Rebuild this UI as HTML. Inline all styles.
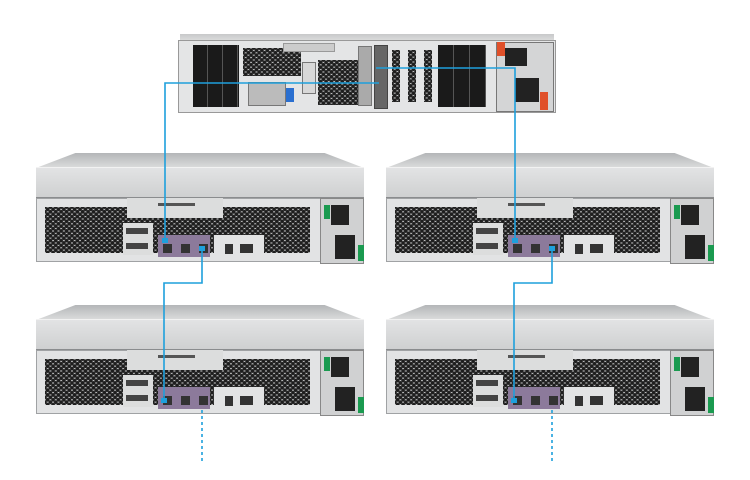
<!DOCTYPE html>
<html><head><meta charset="utf-8"><style>
body{margin:0;width:750px;height:480px;background:#fff;position:relative;overflow:hidden;font-family:"Liberation Sans",sans-serif}
.a{position:absolute}
.u{position:absolute;width:330px;height:115px}
.lid{position:absolute;left:0;top:0;width:328px;height:15px;background:linear-gradient(#b4b6b8,#dcdddd);clip-path:polygon(12% 0,88% 0,100% 100%,0 100%)}
.lf{position:absolute;left:0;top:14px;width:328px;height:31px;background:linear-gradient(#e2e3e4,#cfd0d1);border-top:1px solid #f2f2f2;border-bottom:1px solid #8a8c8e;box-sizing:border-box}
.fp{position:absolute;left:0;top:45px;width:286px;height:64px;background:#e2e3e4;border:1px solid #a0a2a4;box-sizing:border-box}
.mesh{position:absolute;background-color:#d4d5d6;background-image:radial-gradient(circle,#1e1e1e 1.7px,transparent 2.1px),radial-gradient(circle,#1e1e1e 1.7px,transparent 2.1px);background-size:5.4px 4.8px;background-position:0 0,2.7px 2.4px}
.psu{position:absolute;left:284px;top:45px;width:44px;height:66px;background:#d0d1d2;border:1px solid #888;box-sizing:border-box}
</style></head><body>

<!-- top server -->
<div class="a" style="left:180px;top:34px;width:374px;height:8px;background:linear-gradient(#c8c9ca,#e0e0e0)"></div>
<div class="a" style="left:178px;top:40px;width:378px;height:73px;background:#e4e5e6;border:1px solid #999;box-sizing:border-box"></div>
<div class="a" style="left:193px;top:45px;width:46px;height:62px;background:repeating-linear-gradient(90deg,#1a1a1a 0 14px,#555 14px 15px)"></div>
<div class="a" style="left:438px;top:45px;width:48px;height:62px;background:repeating-linear-gradient(90deg,#1a1a1a 0 15px,#555 15px 16px)"></div>
<div class="a mesh" style="left:243px;top:48px;width:58px;height:28px"></div>
<div class="a mesh" style="left:318px;top:60px;width:40px;height:45px"></div>
<div class="a" style="left:283px;top:43px;width:50px;height:7px;background:#ccc;border:1px solid #999"></div>
<div class="a" style="left:248px;top:82px;width:36px;height:22px;background:#bbb;border:1px solid #777"></div>
<div class="a" style="left:286px;top:88px;width:8px;height:14px;background:#2a6fd0"></div>
<div class="a" style="left:302px;top:62px;width:12px;height:30px;background:#d8d8d8;border:1px solid #777"></div>
<div class="a" style="left:358px;top:46px;width:12px;height:58px;background:#aaa;border:1px solid #777"></div>
<div class="a" style="left:374px;top:45px;width:12px;height:62px;background:#666;border:1px solid #444"></div>
<div class="a mesh" style="left:392px;top:50px;width:8px;height:52px"></div>
<div class="a mesh" style="left:408px;top:50px;width:8px;height:52px"></div>
<div class="a mesh" style="left:424px;top:50px;width:8px;height:52px"></div>
<div class="a" style="left:496px;top:42px;width:58px;height:70px;background:#d4d5d6;border:1px solid #777;box-sizing:border-box"></div>
<div class="a" style="left:497px;top:42px;width:8px;height:14px;background:#e0502a"></div>
<div class="a" style="left:540px;top:92px;width:8px;height:18px;background:#e0502a"></div>
<div class="a" style="left:505px;top:48px;width:22px;height:18px;background:#222"></div>
<div class="a" style="left:515px;top:78px;width:24px;height:24px;background:#222"></div>

<!-- units -->
<div class="u" style="left:36px;top:153px"><div class="lid"></div><div class="lf"></div><div class="fp"></div><div class="mesh" style="left:9px;top:54px;width:265px;height:46px"></div><div class="a" style="left:91px;top:45px;width:96px;height:20px;background:#dcdddd"></div><div class="a" style="left:122px;top:50px;width:37px;height:3px;background:#555"></div><div class="a" style="left:87px;top:70px;width:30px;height:32px;background:#dcdddd"></div><div class="a" style="left:90px;top:75px;width:22px;height:6px;background:#444"></div><div class="a" style="left:90px;top:90px;width:22px;height:6px;background:#444"></div><div class="a" style="left:122px;top:82px;width:52px;height:22px;background:#8c7a9b"></div><div class="a" style="left:127px;top:91px;width:9px;height:9px;background:#333"></div><div class="a" style="left:145px;top:91px;width:9px;height:9px;background:#333"></div><div class="a" style="left:163px;top:91px;width:9px;height:9px;background:#333"></div><div class="a" style="left:178px;top:82px;width:50px;height:22px;background:#e2e3e4"></div><div class="a" style="left:189px;top:91px;width:8px;height:10px;background:#333"></div><div class="a" style="left:204px;top:91px;width:13px;height:9px;background:#333"></div><div class="psu"><div class="a" style="left:3px;top:6px;width:6px;height:14px;background:#1a9a50"></div><div class="a" style="left:10px;top:6px;width:18px;height:20px;background:#222"></div><div class="a" style="left:14px;top:36px;width:20px;height:24px;background:#222"></div><div class="a" style="left:37px;top:46px;width:6px;height:16px;background:#1a9a50"></div></div></div>

<div class="u" style="left:386px;top:153px"><div class="lid"></div><div class="lf"></div><div class="fp"></div><div class="mesh" style="left:9px;top:54px;width:265px;height:46px"></div><div class="a" style="left:91px;top:45px;width:96px;height:20px;background:#dcdddd"></div><div class="a" style="left:122px;top:50px;width:37px;height:3px;background:#555"></div><div class="a" style="left:87px;top:70px;width:30px;height:32px;background:#dcdddd"></div><div class="a" style="left:90px;top:75px;width:22px;height:6px;background:#444"></div><div class="a" style="left:90px;top:90px;width:22px;height:6px;background:#444"></div><div class="a" style="left:122px;top:82px;width:52px;height:22px;background:#8c7a9b"></div><div class="a" style="left:127px;top:91px;width:9px;height:9px;background:#333"></div><div class="a" style="left:145px;top:91px;width:9px;height:9px;background:#333"></div><div class="a" style="left:163px;top:91px;width:9px;height:9px;background:#333"></div><div class="a" style="left:178px;top:82px;width:50px;height:22px;background:#e2e3e4"></div><div class="a" style="left:189px;top:91px;width:8px;height:10px;background:#333"></div><div class="a" style="left:204px;top:91px;width:13px;height:9px;background:#333"></div><div class="psu"><div class="a" style="left:3px;top:6px;width:6px;height:14px;background:#1a9a50"></div><div class="a" style="left:10px;top:6px;width:18px;height:20px;background:#222"></div><div class="a" style="left:14px;top:36px;width:20px;height:24px;background:#222"></div><div class="a" style="left:37px;top:46px;width:6px;height:16px;background:#1a9a50"></div></div></div>

<div class="u" style="left:36px;top:305px"><div class="lid"></div><div class="lf"></div><div class="fp"></div><div class="mesh" style="left:9px;top:54px;width:265px;height:46px"></div><div class="a" style="left:91px;top:45px;width:96px;height:20px;background:#dcdddd"></div><div class="a" style="left:122px;top:50px;width:37px;height:3px;background:#555"></div><div class="a" style="left:87px;top:70px;width:30px;height:32px;background:#dcdddd"></div><div class="a" style="left:90px;top:75px;width:22px;height:6px;background:#444"></div><div class="a" style="left:90px;top:90px;width:22px;height:6px;background:#444"></div><div class="a" style="left:122px;top:82px;width:52px;height:22px;background:#8c7a9b"></div><div class="a" style="left:127px;top:91px;width:9px;height:9px;background:#333"></div><div class="a" style="left:145px;top:91px;width:9px;height:9px;background:#333"></div><div class="a" style="left:163px;top:91px;width:9px;height:9px;background:#333"></div><div class="a" style="left:178px;top:82px;width:50px;height:22px;background:#e2e3e4"></div><div class="a" style="left:189px;top:91px;width:8px;height:10px;background:#333"></div><div class="a" style="left:204px;top:91px;width:13px;height:9px;background:#333"></div><div class="psu"><div class="a" style="left:3px;top:6px;width:6px;height:14px;background:#1a9a50"></div><div class="a" style="left:10px;top:6px;width:18px;height:20px;background:#222"></div><div class="a" style="left:14px;top:36px;width:20px;height:24px;background:#222"></div><div class="a" style="left:37px;top:46px;width:6px;height:16px;background:#1a9a50"></div></div></div>

<div class="u" style="left:386px;top:305px"><div class="lid"></div><div class="lf"></div><div class="fp"></div><div class="mesh" style="left:9px;top:54px;width:265px;height:46px"></div><div class="a" style="left:91px;top:45px;width:96px;height:20px;background:#dcdddd"></div><div class="a" style="left:122px;top:50px;width:37px;height:3px;background:#555"></div><div class="a" style="left:87px;top:70px;width:30px;height:32px;background:#dcdddd"></div><div class="a" style="left:90px;top:75px;width:22px;height:6px;background:#444"></div><div class="a" style="left:90px;top:90px;width:22px;height:6px;background:#444"></div><div class="a" style="left:122px;top:82px;width:52px;height:22px;background:#8c7a9b"></div><div class="a" style="left:127px;top:91px;width:9px;height:9px;background:#333"></div><div class="a" style="left:145px;top:91px;width:9px;height:9px;background:#333"></div><div class="a" style="left:163px;top:91px;width:9px;height:9px;background:#333"></div><div class="a" style="left:178px;top:82px;width:50px;height:22px;background:#e2e3e4"></div><div class="a" style="left:189px;top:91px;width:8px;height:10px;background:#333"></div><div class="a" style="left:204px;top:91px;width:13px;height:9px;background:#333"></div><div class="psu"><div class="a" style="left:3px;top:6px;width:6px;height:14px;background:#1a9a50"></div><div class="a" style="left:10px;top:6px;width:18px;height:20px;background:#222"></div><div class="a" style="left:14px;top:36px;width:20px;height:24px;background:#222"></div><div class="a" style="left:37px;top:46px;width:6px;height:16px;background:#1a9a50"></div></div></div>

<svg class="a" style="left:0;top:0" width="750" height="480">
<g fill="none" stroke="#1ea0dc" stroke-width="1.6">
<polyline points="165,240 165,83 379,83"/>
<polyline points="515,240 515,68 376,68"/>
<polyline points="202,248 202,283 164,283 164,402"/>
<polyline points="552,248 552,283 514,283 514,402"/>
<line x1="202" y1="410" x2="202" y2="463" stroke-dasharray="3,3"/>
<line x1="552" y1="410" x2="552" y2="463" stroke-dasharray="3,3"/>
</g>
<g fill="#1ea0dc"><rect x="162" y="238" width="6" height="5"/><rect x="199" y="246" width="6" height="5"/><rect x="512" y="238" width="6" height="5"/><rect x="549" y="246" width="6" height="5"/><rect x="161" y="398" width="6" height="5"/><rect x="511" y="398" width="6" height="5"/></g>
</svg>
</body></html>
